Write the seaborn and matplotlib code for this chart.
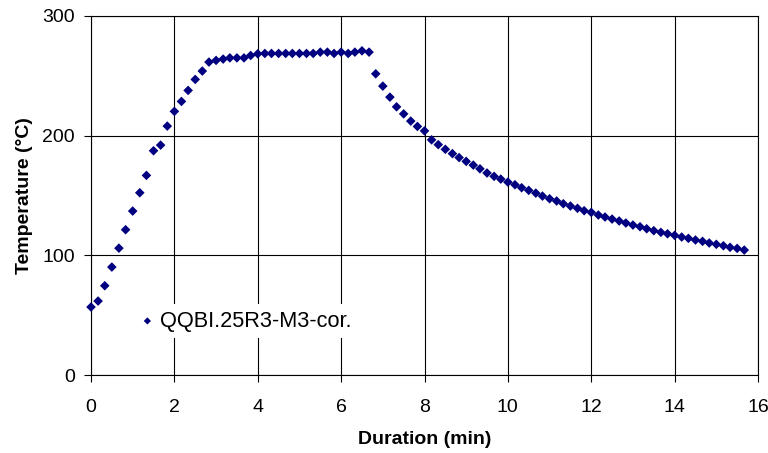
import matplotlib
matplotlib.use("Agg")
import matplotlib.pyplot as plt
import seaborn as sns
import pandas as pd

duration_min = [
    0.00, 0.17, 0.33, 0.50, 0.67, 0.83, 1.00, 1.17, 1.33, 1.50,
    1.67, 1.83, 2.00, 2.17, 2.33, 2.50, 2.67, 2.83, 3.00, 3.17,
    3.33, 3.50, 3.67, 3.83, 4.00, 4.17, 4.33, 4.50, 4.67, 4.83,
    5.00, 5.17, 5.33, 5.50, 5.67, 5.83, 6.00, 6.17, 6.33, 6.50,
    6.67, 6.83, 7.00, 7.17, 7.33, 7.50, 7.67, 7.83, 8.00, 8.17,
    8.33, 8.50, 8.67, 8.83, 9.00, 9.17, 9.33, 9.50, 9.67, 9.83,
    10.00, 10.17, 10.33, 10.50, 10.67, 10.83, 11.00, 11.17, 11.33, 11.50,
    11.67, 11.83, 12.00, 12.17, 12.33, 12.50, 12.67, 12.83, 13.00, 13.17,
    13.33, 13.50, 13.67, 13.83, 14.00, 14.17, 14.33, 14.50, 14.67, 14.83,
    15.00, 15.17, 15.33, 15.50, 15.67,
]
temperature_c = [
    56.8, 61.8, 74.6, 90.2, 106.0, 121.4, 137.0, 152.3, 166.8, 187.4,
    192.1, 208.0, 220.3, 228.6, 237.8, 247.0, 254.0, 261.5, 262.9, 264.0,
    265.0, 265.0, 265.0, 267.0, 268.4, 268.7, 268.7, 268.7, 268.7, 268.7,
    268.7, 268.7, 268.7, 269.8, 269.8, 268.7, 269.8, 268.7, 269.8, 270.9,
    269.8, 251.7, 241.4, 232.2, 224.1, 218.2, 212.2, 207.7, 204.0, 196.5,
    192.5, 188.6, 185.0, 181.7, 178.5, 175.4, 172.3, 168.8, 166.0, 163.7,
    161.2, 159.0, 156.5, 154.3, 152.0, 149.5, 147.3, 145.4, 143.1, 141.2,
    139.3, 137.3, 135.9, 133.7, 132.0, 130.3, 128.7, 127.0, 125.3, 123.9,
    122.2, 120.6, 119.2, 118.0, 116.7, 115.3, 114.2, 112.8, 111.7, 110.3,
    109.2, 108.0, 106.7, 105.8, 104.4,
]
series_name = "QQBI.25R3-M3-cor."
x_ticks = [0, 2, 4, 6, 8, 10, 12, 14, 16]
y_ticks = [0, 100, 200, 300]

df = pd.DataFrame({"Duration (min)": duration_min, "Temperature (°C)": temperature_c})

sns.set_style("white")
plt.rcParams["font.family"] = ["Liberation Sans", "DejaVu Sans"]
plt.rcParams["text.color"] = "black"
plt.rcParams["axes.labelcolor"] = "black"
plt.rcParams["xtick.color"] = "black"
plt.rcParams["ytick.color"] = "black"

fig = plt.figure(figsize=(7.68, 4.53), dpi=100)
ax = fig.add_axes([91 / 768, 1 - 375 / 453, 667 / 768, 359 / 453])

sns.scatterplot(data=df, x="Duration (min)", y="Temperature (°C)", ax=ax,
                marker="D", s=24, color="#000080", edgecolor="none",
                label=series_name, zorder=3, clip_on=False)

ax.set_xlim(0, 16)
ax.set_ylim(0, 300)
ax.set_xticks(x_ticks)
ax.set_yticks(y_ticks)
ax.grid(True, color="black", linewidth=0.8)
ax.set_axisbelow(True)
for side in ["left", "bottom", "top", "right"]:
    ax.spines[side].set_color("black")
    ax.spines[side].set_linewidth(0.8)
ax.tick_params(axis="both", direction="out", length=5, width=0.8,
               colors="black", labelsize=14, bottom=True, left=True)
ax.tick_params(axis="x", pad=12)
ax.tick_params(axis="y", pad=6.5)
ax.set_xlabel("Duration (min)", fontsize=14, fontweight="bold", labelpad=11)
ax.set_ylabel("Temperature (°C)", fontsize=14, fontweight="bold", labelpad=7)

leg = ax.legend(loc="center left", bbox_to_anchor=(0.042, 0.15), frameon=True,
                facecolor="white", edgecolor="none", framealpha=1,
                fontsize=15.7, handletextpad=0.1, handlelength=1.0,
                borderpad=0.3, markerscale=0.75)

fig.savefig("out.png", dpi=100)
